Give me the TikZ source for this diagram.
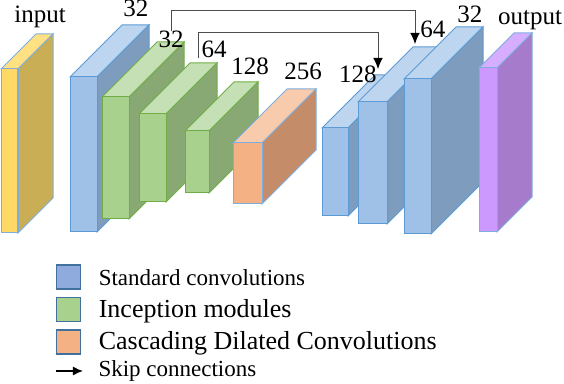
\documentclass[tikz,border=0pt]{standalone}
\usepackage{fontspec}
\setmainfont{Liberation Serif}
\usetikzlibrary{arrows.meta,positioning}
\definecolor{inp-front}{HTML}{FFD966}
\definecolor{inp-top}{HTML}{FFE083}
\definecolor{inp-side}{HTML}{C9AE55}
\definecolor{inp-edge}{HTML}{7FAEDD}
\definecolor{std-front}{HTML}{9FC1E7}
\definecolor{std-top}{HTML}{BDD5EF}
\definecolor{std-side}{HTML}{7E9CBD}
\definecolor{std-edge}{HTML}{5B9BD5}
\definecolor{inc-front}{HTML}{A9D18E}
\definecolor{inc-top}{HTML}{C5E0B4}
\definecolor{inc-side}{HTML}{89A974}
\definecolor{inc-edge}{HTML}{70AD47}
\definecolor{cdc-front}{HTML}{F4B183}
\definecolor{cdc-top}{HTML}{F8CBAD}
\definecolor{cdc-side}{HTML}{C48C68}
\definecolor{cdc-edge}{HTML}{7FAEDD}
\definecolor{out-front}{HTML}{CC99FF}
\definecolor{out-top}{HTML}{D6ADFF}
\definecolor{out-side}{HTML}{A67BCB}
\definecolor{out-edge}{HTML}{7FAEDD}
\definecolor{keyborder}{HTML}{41719C}
\definecolor{keystd}{HTML}{8FAADC}
% 3d layer: x, y of front top left, width, height, depth, colour family
\newcommand{\layerbox}[6]{%
  \filldraw[fill=#6-top, draw=#6-edge]
    (#1,#2) -- ++(#3,0) -- ++(#5,-#5) -- ++(-#3,0) -- cycle;
  \filldraw[fill=#6-side, draw=#6-edge]
    ({#1+#3},#2) -- ++(#5,-#5) -- ++(0,#4) -- ++(-#5,#5) -- cycle;
  \filldraw[fill=#6-front, draw=#6-edge] (#1,#2) rectangle ++(#3,#4);
}

\begin{document}
\begin{tikzpicture}[x=0.5pt, y=-0.5pt, line width=0.5pt,
                    every node/.style={inner sep=0pt},
                    lbl/.style={anchor=base, font=\fontsize{12.5}{14}\selectfont},
                    skip/.style={draw=black!70,
                                 -{Latex[length=5.5pt,width=4.8pt,color=black]}},
                    keybox/.style={draw=keyborder, line width=0.8pt, minimum size=12pt},
                    keysmall/.style={font=\fontsize{11.5}{13}\selectfont},
                    keylarge/.style={font=\fontsize{13}{15}\selectfont}]
  \useasboundingbox (0,0) rectangle (564,384);
  % encoder
  \layerbox{1}{69}{17}{164}{35}{inp}
  \layerbox{70}{77}{27}{155}{52}{std}
  \layerbox{102}{97}{27}{122}{55}{inc}
  \layerbox{139}{114}{27}{88}{51}{inc}
  \layerbox{185}{131}{24}{62}{49}{inc}
  \layerbox{233}{143}{29}{61}{54}{cdc}
  % decoder
  \layerbox{322}{128}{26}{88}{53}{std}
  \layerbox{358}{102}{29}{122}{55}{std}
  \layerbox{404}{79}{27}{155}{52}{std}
  \layerbox{479}{68}{18}{164}{35}{out}
  % labels
  \node[lbl] (lblIn)  at (40,23)  {input};
  \node[lbl] (lblS1)  at (136,17) {32};
  \node[lbl] (lblG1)  at (171,48) {32};
  \node[lbl] (lblG2)  at (214,58) {64};
  \node[lbl] (lblG3)  at (250,75) {128};
  \node[lbl] (lblCdc) at (303,80) {256};
  \node[lbl] (lblDA)  at (358,83) {128};
  \node[lbl] (lblDB)  at (433,38) {64};
  \node[lbl] (lblDC)  at (470,23) {32};
  \node[lbl] (lblOut) at (530,25) {output};
  % skip connections
  \coordinate (outerTop) at (415,11);
  \coordinate (skipB)    at (415,44);
  \coordinate (innerTop) at (378,33);
  \coordinate (skipA)    at (378,69);
  \draw[skip] (lblG1.north) |- (outerTop) -- (skipB);
  \draw[skip] ([xshift=-1.5pt]lblG2.base west) |- (innerTop) -- (skipA);
  % legend
  \node[keybox, fill=keystd]    (keyStd) at (68.5,277)   {};
  \node[keybox, fill=inc-front] (keyInc) at (68.5,309.5) {};
  \node[keybox, fill=cdc-front] (keyCdc) at (68.5,342)   {};
  \coordinate (keyArrow)    at (56,371);
  \coordinate (keyArrowEnd) at (83,371);
  \draw[-{Latex[length=5pt,width=4.5pt]}, line width=0.7pt] (keyArrow) -- (keyArrowEnd);
  \node[keysmall, right=8.5pt of keyStd, anchor=base west, yshift=-4.5pt] (txtStd)
       {Standard convolutions};
  \node[keylarge, right=8.5pt of keyInc, anchor=base west, yshift=-4.25pt] (txtInc)
       {Inception modules};
  \node[keylarge, right=8.5pt of keyCdc, anchor=base west, yshift=-4pt] (txtCdc)
       {Cascading Dilated Convolutions};
  \node[keysmall, anchor=base west] (txtSkip) at (98,377) {Skip connections};
\end{tikzpicture}
\end{document}
